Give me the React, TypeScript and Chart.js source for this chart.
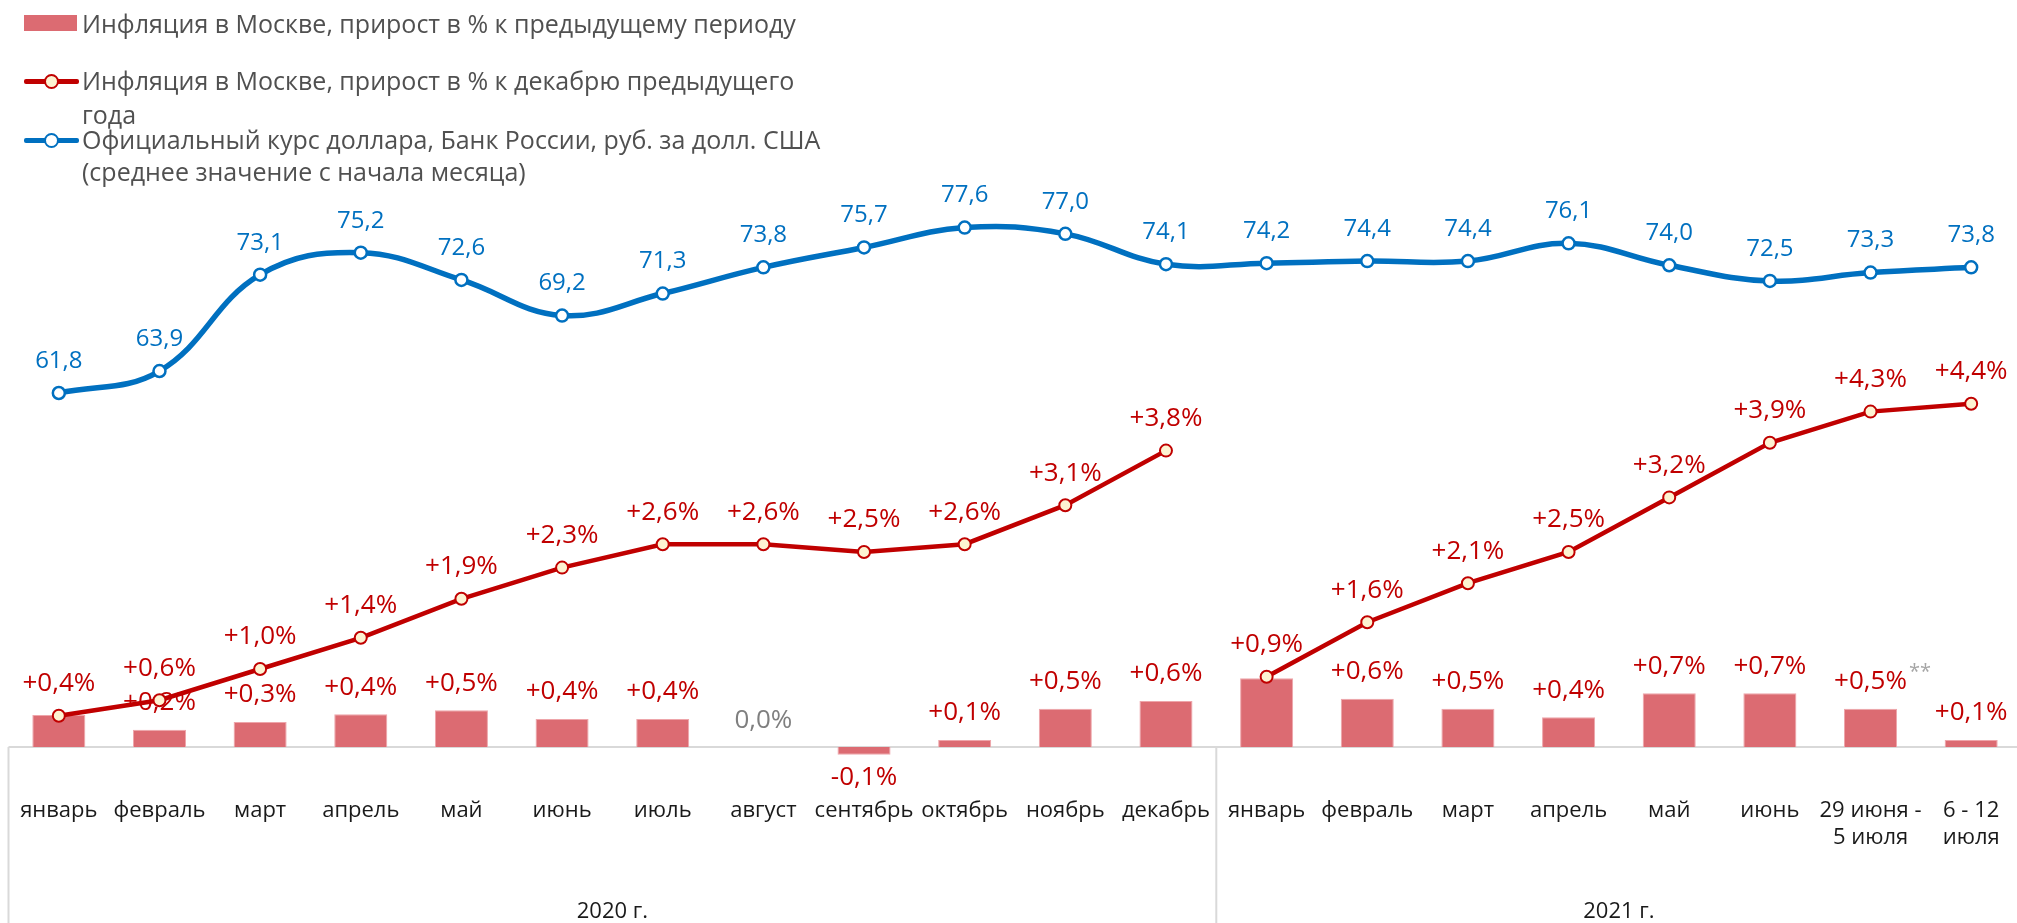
import { useEffect, useRef } from 'react';
import { Chart, registerables } from 'chart.js';

Chart.register(...registerables);

const categories: (string | string[])[] = [
  'январь', 'февраль', 'март', 'апрель', 'май', 'июнь', 'июль', 'август',
  'сентябрь', 'октябрь', 'ноябрь', 'декабрь',
  'январь', 'февраль', 'март', 'апрель', 'май', 'июнь',
  ['29 июня -', '5 июля'], ['6 - 12', 'июля'],
];

const monthlyInflation = [
  0.41, 0.22, 0.32, 0.42, 0.47, 0.36, 0.36, 0.0, -0.1, 0.09, 0.49, 0.59,
  0.88, 0.62, 0.49, 0.38, 0.69, 0.69, 0.49, 0.09,
];

const cumulativeInflation = [
  0.4, 0.6, 1.0, 1.4, 1.9, 2.3, 2.6, 2.6, 2.5, 2.6, 3.1, 3.8,
  0.9, 1.6, 2.1, 2.5, 3.2, 3.9, 4.3, 4.4,
];

const usdRate = [
  61.8, 63.9, 73.1, 75.2, 72.6, 69.2, 71.3, 73.8, 75.7, 77.6, 77.0, 74.1,
  74.2, 74.4, 74.4, 76.1, 74.0, 72.5, 73.3, 73.8,
];

const yearLabels = ['2020 г.', '2021 г.'];
const yearStarts = [0, 12];
const footnoteIndex = 18;
const footnoteMark = '**';

const legendLabels = [
  ['Инфляция в Москве, прирост в % к предыдущему периоду'],
  ['Инфляция в Москве, прирост в % к декабрю предыдущего', 'года'],
  ['Официальный курс доллара, Банк России, руб. за долл. США', '(среднее значение с начала месяца)'],
];

const FONT = "'Open Sans', sans-serif";
const BAR_COLOR = '#dc6b72';
const RED = '#c00000';
const BLUE = '#0070c0';
const CREAM = '#fdf3d2';
const GRID = '#d9d9d9';

const fmtPct = (v: number) => {
  const s = Math.abs(v).toFixed(1).replace('.', ',');
  if (v > 0) return '+' + s + '%';
  if (v < 0) return '-' + s + '%';
  return s + '%';
};
const fmtRate = (v: number) => v.toFixed(1).replace('.', ',');

const decorPlugin = {
  id: 'decor',
  beforeDatasetsDraw(chart: any) {
    const { ctx, chartArea, scales } = chart;
    const y0 = scales.y.getPixelForValue(0);
    const x = scales.x;
    const step = (chartArea.right - chartArea.left) / categories.length;
    ctx.save();
    ctx.strokeStyle = GRID;
    ctx.lineWidth = 2;
    ctx.beginPath();
    ctx.moveTo(chartArea.left, y0);
    ctx.lineTo(chart.width, y0);
    ctx.stroke();
    yearStarts.forEach((s) => {
      const px = x.getPixelForValue(s) - step / 2;
      ctx.beginPath();
      ctx.moveTo(px, y0);
      ctx.lineTo(px, chart.height);
      ctx.stroke();
    });
    ctx.fillStyle = '#1a1a1a';
    ctx.font = `22px ${FONT}`;
    ctx.textAlign = 'center';
    ctx.textBaseline = 'middle';
    yearStarts.forEach((s, i) => {
      const end = i + 1 < yearStarts.length ? yearStarts[i + 1] - 1 : categories.length - 1;
      const l = x.getPixelForValue(s) - step / 2;
      const r = x.getPixelForValue(end) + step / 2;
      ctx.fillText(yearLabels[i], (l + r) / 2, 912);
    });
    ctx.restore();
  },
  afterDatasetsDraw(chart: any) {
    const { ctx } = chart;
    ctx.save();
    ctx.textAlign = 'center';
    ctx.textBaseline = 'middle';
    ctx.font = `26px ${FONT}`;
    // bar labels
    const barMeta = chart.getDatasetMeta(0);
    barMeta.data.forEach((el: any, i: number) => {
      const v = monthlyInflation[i];
      const txt = fmtPct(v);
      if (txt === fmtPct(cumulativeInflation[i])) return;
      let y;
      if (v > 0) {
        ctx.fillStyle = RED;
        y = el.y - 27;
      } else if (v < 0) {
        ctx.fillStyle = RED;
        y = el.y + 23;
      } else {
        ctx.fillStyle = '#7f7f7f';
        y = el.y - 26;
      }
      ctx.fillText(txt, el.x, y);
      if (i === footnoteIndex) {
        const w = ctx.measureText(txt).width;
        ctx.save();
        ctx.font = `20px ${FONT}`;
        ctx.fillStyle = '#a6a6a6';
        ctx.textAlign = 'left';
        ctx.fillText(footnoteMark, el.x + w / 2 + 2, y - 9);
        ctx.restore();
      }
    });
    // red labels
    const redMeta = chart.getDatasetMeta(1);
    ctx.fillStyle = RED;
    redMeta.data.forEach((el: any, i: number) => {
      ctx.fillText(fmtPct(cumulativeInflation[i]), el.x, el.y - 32);
    });
    // blue labels
    ctx.font = `24px ${FONT}`;
    const blueMeta = chart.getDatasetMeta(2);
    ctx.fillStyle = BLUE;
    blueMeta.data.forEach((el: any, i: number) => {
      ctx.fillText(fmtRate(usdRate[i]), el.x, el.y - 32);
    });
    ctx.restore();
  },
};

function LegendMarker({ type, color }: { type: 'bar' | 'line'; color: string }) {
  if (type === 'bar') {
    return <div style={{ position: 'absolute', left: 0, top: 0, width: 53, height: 16, background: color }} />;
  }
  return (
    <div style={{ position: 'absolute', left: 0, top: 0, width: 55, height: 16 }}>
      <div style={{ position: 'absolute', left: 0, top: 6, width: 55, height: 5, background: color, borderRadius: 2 }} />
      <div
        style={{
          position: 'absolute', left: 20, top: 1, width: 11, height: 11, borderRadius: '50%',
          border: `2px solid ${color}`, background: color === RED ? CREAM : '#fff',
        }}
      />
    </div>
  );
}

export default function App() {
  const canvasRef = useRef<HTMLCanvasElement | null>(null);

  useEffect(() => {
    if (!canvasRef.current) return;
    const chart = new Chart(canvasRef.current, {
      type: 'bar',
      data: {
        labels: categories as any,
        datasets: [
          {
            type: 'bar',
            label: legendLabels[0].join(' '),
            data: monthlyInflation,
            backgroundColor: BAR_COLOR,
            borderColor: '#eea5aa',
            borderWidth: 1,
            categoryPercentage: 1,
            barPercentage: 0.527,
            yAxisID: 'y',
            order: 3,
            clip: false as any,
          },
          {
            type: 'line',
            label: legendLabels[1].join(' '),
            data: cumulativeInflation,
            borderColor: RED,
            borderWidth: 4.5,
            pointRadius: 6,
            pointBorderWidth: 2,
            pointBackgroundColor: CREAM,
            pointBorderColor: RED,
            tension: 0,
            yAxisID: 'y',
            order: 2,
            segment: {
              borderColor: (c: any) => (c.p1DataIndex === yearStarts[1] ? 'rgba(0,0,0,0)' : RED),
            },
          },
          {
            type: 'line',
            label: legendLabels[2].join(' '),
            data: usdRate,
            borderColor: BLUE,
            borderWidth: 5.5,
            pointRadius: 6,
            pointBorderWidth: 2.5,
            pointBackgroundColor: '#ffffff',
            pointBorderColor: BLUE,
            tension: 0.4,
            yAxisID: 'y2',
            order: 1,
          },
        ],
      },
      options: {
        animation: false,
        responsive: false,
        devicePixelRatio: 1,
        layout: { padding: { left: 8, right: 8, top: 10, bottom: 0 } },
        plugins: { legend: { display: false }, tooltip: { enabled: false } },
        scales: {
          x: {
            type: 'category',
            offset: true,
            grid: { display: false, drawTicks: false },
            border: { display: false },
            ticks: {
              autoSkip: false,
              maxRotation: 0,
              minRotation: 0,
              padding: 50,
              color: '#1a1a1a',
              font: { family: FONT, size: 22, lineHeight: 1.22 },
            },
            afterFit: (scale: any) => {
              scale.height = 176;
              scale.paddingLeft = 0;
              scale.paddingRight = 0;
            },
          },
          y: { display: false, min: 0, max: 9.449 },
          y2: { display: false, min: 27.99, max: 98.38 },
        },
      },
      plugins: [decorPlugin],
    });
    return () => chart.destroy();
  }, []);

  const textStyle: any = {
    position: 'absolute', left: 82, fontFamily: FONT, fontSize: 25, color: '#505050', whiteSpace: 'nowrap',
  };

  return (
    <div style={{ position: 'fixed', left: 0, top: 0, width: 2017, height: 923, overflow: 'hidden', background: '#fff' }}>
      <canvas ref={canvasRef} width={2030} height={923} style={{ position: 'absolute', left: 0, top: 0, width: 2030, height: 923 }} />
      <div style={{ position: 'absolute', left: 24, top: 15 }}>
        <LegendMarker type="bar" color={BAR_COLOR} />
      </div>
      <div style={{ ...textStyle, top: 7, lineHeight: '32px' }}>{legendLabels[0][0]}</div>
      <div style={{ position: 'absolute', left: 24, top: 73 }}>
        <LegendMarker type="line" color={RED} />
      </div>
      <div style={{ ...textStyle, top: 63, lineHeight: '34px' }}>
        {legendLabels[1][0]}<br />{legendLabels[1][1]}
      </div>
      <div style={{ position: 'absolute', left: 24, top: 132 }}>
        <LegendMarker type="line" color={BLUE} />
      </div>
      <div style={{ ...textStyle, top: 123, lineHeight: '32px' }}>
        {legendLabels[2][0]}<br />{legendLabels[2][1]}
      </div>
    </div>
  );
}
